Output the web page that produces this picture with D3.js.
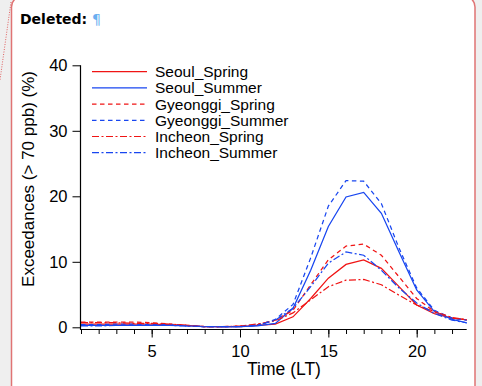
<!DOCTYPE html>
<html>
<head>
<meta charset="utf-8">
<script src="https://cdn.jsdelivr.net/npm/d3@7"></script>
<style>
  html, body { margin: 0; padding: 0; background: #efefef; }
  svg { display: block; }
</style>
</head>
<body>
<svg id="chart" width="482" height="386"></svg>
<script>
// Hourly exceedance frequencies of ozone (> 70 ppb), by region and season
const hours = d3.range(1, 24);
const seoulSpring    = [0.5,0.5,0.5,0.5,0.5,0.4,0.3,0.1,0.1,0.1,0.3,0.5,1.6,4.4,7.5,9.6,10.3,9.0,6.2,3.4,2.1,1.4,1.1];
const seoulSummer    = [0.3,0.3,0.3,0.3,0.3,0.3,0.2,0.1,0.05,0.1,0.2,0.6,2.9,8.7,15.4,19.9,20.6,17.4,11.5,5.7,2.4,1.2,0.6];
const gyeonggiSpring = [0.8,0.8,0.8,0.8,0.7,0.5,0.3,0.1,0.1,0.2,0.4,1.1,2.6,6.5,10.3,12.4,12.7,11.0,7.7,4.4,2.4,1.4,1.1];
const gyeonggiSummer = [0.4,0.4,0.5,0.5,0.4,0.4,0.2,0.1,0.1,0.1,0.3,1.2,3.5,10.6,18.5,22.4,22.3,18.9,12.1,6.0,2.6,1.4,1.0];
const incheonSpring  = [0.7,0.7,0.7,0.6,0.6,0.5,0.3,0.1,0.1,0.2,0.5,1.0,2.2,4.2,6.2,7.2,7.3,6.5,4.9,3.4,2.4,1.5,1.1];
const incheonSummer  = [0.2,0.2,0.3,0.3,0.3,0.3,0.2,0.1,0.1,0.1,0.3,1.1,2.9,6.2,9.8,11.5,11.0,8.7,6.0,3.7,2.1,1.1,0.6];

const seriesNames = ["Seoul_Spring","Seoul_Summer","Gyeonggi_Spring","Gyeonggi_Summer","Incheon_Spring","Incheon_Summer"];
const seriesValues = [seoulSpring, seoulSummer, gyeonggiSpring, gyeonggiSummer, incheonSpring, incheonSummer];
const yTicks = [0, 10, 20, 30, 40];
const xMajorTicks = [5, 10, 15, 20];

const RED = "#f01414", BLUE = "#1846f0";
const styles = [
  { color: RED,  dash: null },
  { color: BLUE, dash: null },
  { color: RED,  dash: "4.5,3.5" },
  { color: BLUE, dash: "4.5,3.5" },
  { color: RED,  dash: "7,2.5,2,2.5" },
  { color: BLUE, dash: "7,2.5,2,2.5" }
];

const svg = d3.select("#chart");
const FONT = "'Liberation Sans', Arial, Helvetica, sans-serif";

// comment frame behind the plot
svg.append("rect")
  .attr("x", 11.5).attr("y", -4).attr("width", 463.5).attr("height", 420)
  .attr("rx", 11).attr("ry", 11)
  .attr("fill", "#ffffff").attr("stroke", "#e07474").attr("stroke-width", 1.5);
svg.append("line")
  .attr("x1", 11).attr("y1", 2).attr("x2", 0).attr("y2", 80)
  .attr("stroke", "#e06060").attr("stroke-width", 1).attr("stroke-dasharray", "1,1.5");

const header = svg.append("text")
  .attr("x", 20).attr("y", 24)
  .attr("font-family", "'DejaVu Sans', Verdana, sans-serif")
  .attr("font-size", 14).attr("font-weight", "bold").attr("fill", "#000");
header.append("tspan").text("Deleted: ");
header.append("tspan").attr("fill", "#6aaef0").attr("font-weight", "normal").text("¶");

// scales
const x = d3.scaleLinear().domain([1, 22.83]).range([81, 466.7]);
const y = d3.scaleLinear().domain([0, 40]).range([327.3, 65.3]);
const axisY = 329.5;

svg.append("clipPath").attr("id", "plotClip")
  .append("rect").attr("x", 80).attr("y", 40).attr("width", x.range()[1] - 80).attr("height", 300);

// lines
const line = d3.line().x((d, i) => x(hours[i])).y(d => y(d));
const plot = svg.append("g").attr("clip-path", "url(#plotClip)");
seriesValues.forEach((vals, k) => {
  plot.append("path")
    .datum(vals)
    .attr("d", line)
    .attr("fill", "none")
    .attr("stroke", styles[k].color)
    .attr("stroke-width", 1.25)
    .attr("stroke-dasharray", styles[k].dash);
});

// x axis: minor ticks every hour, longer labelled majors
const xMinor = svg.append("g").attr("transform", `translate(0,${axisY})`)
  .call(d3.axisBottom(x).tickValues(d3.range(1, 23)).tickSize(4.5).tickSizeOuter(0).tickFormat(""));
xMinor.select(".domain").remove();
const xMajor = svg.append("g").attr("transform", `translate(0,${axisY})`)
  .call(d3.axisBottom(x).tickValues(xMajorTicks).tickSize(8).tickSizeOuter(0).tickPadding(8));
xMajor.select(".domain").remove();
svg.selectAll(".tick line").attr("stroke", "#000").attr("stroke-width", 1);
xMajor.selectAll("text").attr("font-family", FONT).attr("font-size", 16.5).attr("fill", "#000");
svg.append("line").attr("x1", 80).attr("x2", x.range()[1]).attr("y1", axisY).attr("y2", axisY)
  .attr("stroke", "#000").attr("stroke-width", 1.2);

// y axis
const yAxis = svg.append("g").attr("transform", "translate(80.5,0)")
  .call(d3.axisLeft(y).tickValues(yTicks).tickSize(8).tickSizeOuter(0).tickPadding(5));
yAxis.select(".domain").remove();
yAxis.selectAll(".tick line").attr("stroke", "#000");
yAxis.selectAll("text").attr("font-family", FONT).attr("font-size", 16.5).attr("fill", "#000");
svg.append("line").attr("x1", 80.5).attr("x2", 80.5).attr("y1", y(40)).attr("y2", axisY)
  .attr("stroke", "#000").attr("stroke-width", 1.2);

// axis titles
svg.append("text")
  .attr("x", 284).attr("y", 375)
  .attr("text-anchor", "middle").attr("font-family", FONT).attr("font-size", 17.5)
  .text("Time (LT)");
svg.append("text")
  .attr("transform", "translate(34,179) rotate(-90)")
  .attr("text-anchor", "middle").attr("font-family", FONT).attr("font-size", 17)
  .text("Exceedances (> 70 ppb) (%)");

// legend
const legend = svg.append("g");
seriesNames.forEach((name, k) => {
  const ly = 71.7 + k * 16.2;
  legend.append("line")
    .attr("x1", 92).attr("x2", 147).attr("y1", ly).attr("y2", ly)
    .attr("stroke", styles[k].color).attr("stroke-width", 1.2)
    .attr("stroke-dasharray", styles[k].dash);
  legend.append("text")
    .attr("x", 155).attr("y", ly + 5.5)
    .attr("font-family", FONT).attr("font-size", 15.5).attr("fill", "#000")
    .text(name);
});
</script>
</body>
</html>
